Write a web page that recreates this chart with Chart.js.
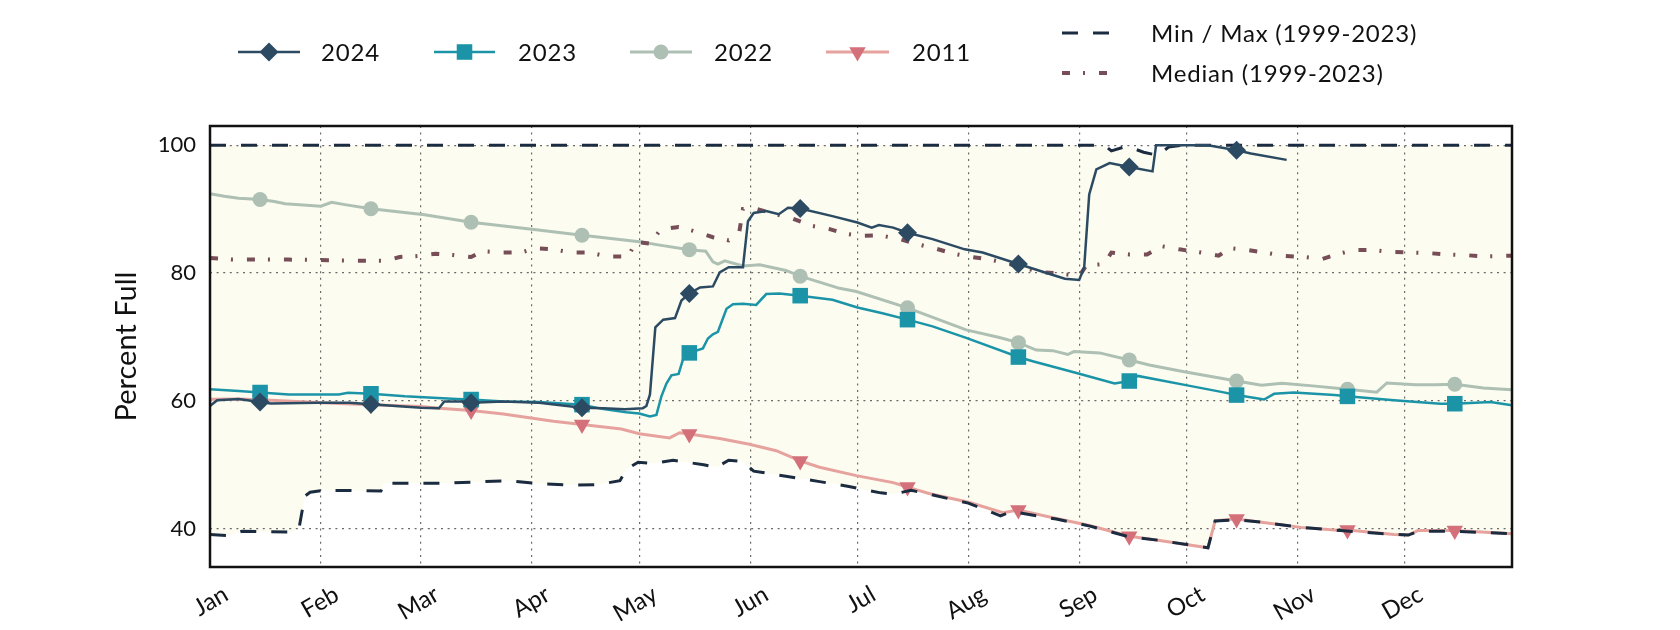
<!DOCTYPE html>
<html>
<head>
<meta charset="utf-8">
<script src="https://cdn.jsdelivr.net/npm/chart.js@4.4.1/dist/chart.umd.min.js"></script>
<style>
  body { margin: 0; background: #fff; }
  #chart { display: block; }
</style>
</head>
<body>
<canvas id="chart" width="1680" height="630"></canvas>
<script>
// Day of year (0 = Jan 1) and percent full
const monthDays = [0, 31, 59, 90, 120, 151, 181, 212, 243, 273, 304, 334];
const monthLabels = ['Jan', 'Feb', 'Mar', 'Apr', 'May', 'Jun', 'Jul', 'Aug', 'Sep', 'Oct', 'Nov', 'Dec'];
const yTicks = [40, 60, 80, 100];
const markerDays = [14, 45, 73, 104, 134, 165, 195, 226, 257, 287, 318, 348];

const days2024 = [0,2,8,14,17,30,39,45,59,64,65.5,71,73,82,92,104,110,116,121,122,123,124.5,126.7,130,131.8,134,137,140.6,142.5,145,149,150.4,152,155.5,159,161.6,165,174,181,185,187,191,195,202,211,216,226,235,239,243,244.4,245.8,247.8,251.5,257,263.5,264.5,279,287,291,301];
const pct2024 = [59.2,60.1,60.3,59.8,59.6,59.7,59.7,59.45,58.9,58.85,59.9,59.9,59.7,59.9,59.7,58.9,58.85,58.7,58.85,59.2,61,71.5,72.7,72.95,75.7,76.8,77.75,77.9,80.1,80.9,80.9,88.1,89.4,89.7,89.2,90.2,90.1,88.9,87.9,87.1,87.5,87.1,86.3,85.3,83.7,83.2,81.4,79.8,79.1,78.9,80.9,92.3,96.2,97.2,96.6,95.9,100,100,99.2,98.7,97.7];

const days2023 = [0,8,14,22,36,38.6,45,54.5,69,73,82,92,104,110,116.4,120,123,124.8,126.2,127.6,129,131,132.2,134,137.8,139.2,140.6,142,144.4,146.2,149,152.7,155.5,159.2,165,174,181,188,195,202,211.4,226,230,242,252.9,257,259.4,274.3,282.7,287,294.7,297.5,303,314.4,318,331,344,348,358,364];
const pct2023 = [61.8,61.55,61.3,61.0,61.0,61.25,61.1,60.7,60.3,60.2,59.9,59.8,59.4,58.7,58.2,58.0,57.55,57.8,60.7,62.7,64.0,64.2,66.4,67.5,68.2,69.75,70.4,70.8,74.4,75.1,75.2,75.0,76.7,76.8,76.45,75.8,74.6,73.7,72.7,71.65,69.85,66.85,66.2,64.4,62.7,63.1,63.9,62.3,61.4,60.9,60.2,61.1,61.3,60.9,60.7,60.1,59.55,59.55,59.8,59.3];

const days2022 = [0,4,8,14,18,21,31,34,37.7,45,60,73,90.6,104,109,120.6,125.3,134,138.6,140.6,142,143.9,149,153.7,161,165,176,180.7,195,211.4,220.7,226,231,235.6,239.8,241.5,248.7,257,262.6,272,287,294,299.7,309,318,326.2,329,337,342.7,348,356,364];
const pct2022 = [92.4,92.0,91.7,91.5,91.2,90.85,90.45,91.05,90.7,90.05,89.1,87.95,86.8,85.9,85.6,84.85,84.4,83.65,83.4,81.75,81.4,81.9,81.1,81.3,80.4,79.5,77.6,77.1,74.55,71.1,69.9,69.1,67.95,67.85,67.25,67.7,67.5,66.4,65.6,64.6,63.1,62.45,62.75,62.3,61.8,61.35,62.8,62.5,62.5,62.6,62.0,61.75];

const days2011 = [0,8,14,36,45,59,64,73,82,96,104,115,120,128.5,131.3,134,142.5,150.8,158.3,165,170.4,180.7,191,195,201,212.4,221.7,226,236.6,245.9,257,265,279,281,286,287,294,305,316,318,331,335,337.7,348,364];
const pct2011 = [60.25,60.3,60.15,59.6,59.4,59.1,58.85,58.5,57.95,56.8,56.3,55.6,54.85,54.2,55.0,54.8,54.1,53.2,52.2,50.6,49.6,48.3,47.2,46.5,45.5,44.1,42.5,42.9,41.6,40.5,38.8,38.2,37.0,41.2,41.5,41.5,41.0,40.2,39.7,39.8,39.1,39.0,39.7,39.7,39.2];

const daysMin = [0,5,9,23,25,26.5,28,32,47.8,48.7,65,83,90.6,101.6,108.5,114.6,116.4,119.7,124,129.5,138,141.6,145,149,152,161,170,178.6,187.5,191,196,201,212,221,224,236.6,246,257,265,279,281,287,294,305,316,331,335,338,348,364];
const pctMin = [39.1,38.9,39.6,39.45,40.4,45.1,45.7,46.0,45.9,47.1,47.1,47.5,47.1,46.8,46.9,47.5,49.3,50.4,50.2,50.7,50.0,49.6,50.7,50.5,49.0,48.2,47.4,46.6,45.6,45.4,46.0,45.4,44.0,42.0,42.7,41.5,40.4,38.7,38.2,37.0,41.2,41.4,41.0,40.2,39.7,39.1,39.0,39.6,39.6,39.2];

const daysMax = [0,250,252,256,258,261,265,268,272,364];
const pctMax = [100,100,99.1,99.8,99.5,98.9,98.4,99.7,100,100];

const daysMed = [0,6,12,22,33,44,49,53,58,63,68,73,76,82,87,91,96,101,106,111,117,119,123,126,131,135,140.6,145,148,149,153,158,163,168,173,178,182,187,193,197,203,208,213,218,223,228,233,238,243,245,250,252,257,262,266,271,277,282,285,290,295,300,306,311,315.5,320,325,330,336,341,346,351,356,364];
const pctMed = [82.35,82.1,82.1,82.1,82.0,81.9,81.9,82.5,82.65,83.0,82.8,82.5,83.4,83.2,83.2,83.9,83.7,83.2,83.2,82.6,82.6,84.9,84.6,86.8,87.2,86.6,85.6,85.1,86.5,90.0,90.0,89.2,88.5,87.4,86.9,86.1,85.8,85.9,85.3,84.6,83.8,83.0,82.5,82.1,81.5,80.7,80.1,79.9,79.5,81.2,81.4,83.2,82.9,82.9,84.2,83.7,83.2,82.7,83.9,83.6,83.2,82.7,82.5,82.2,83.0,83.6,83.6,83.3,83.2,83.1,82.9,82.8,82.6,82.7];

const FONT = 'Lato';
const INK = '#111111';

function series(days, vals) {
    return days.map((d, i) => ({x: d, y: vals[i]}));
}

// markers only on the 15th of each month
function markerAt(r) {
    return ctx => (ctx.raw && markerDays.includes(ctx.raw.x)) ? r : 0;
}

// Plot frame
const frame = {
    id: 'frame',
    afterDraw(chart) {
        const {ctx, chartArea: a} = chart;
        ctx.save();
        ctx.lineWidth = 2.5;
        ctx.strokeStyle = INK;
        ctx.strokeRect(a.left, a.top, a.right - a.left, a.bottom - a.top);
        ctx.restore();
    }
};

// Legend in two blocks, like the original
const legendLayout = [
    {ds: 0, x1: 238, x2: 300, y: 52, tx: 321},
    {ds: 4, x1: 434, x2: 495, y: 52, tx: 518},
    {ds: 5, x1: 630, x2: 692, y: 52, tx: 714},
    {ds: 6, x1: 826, x2: 889, y: 52, tx: 912},
    {ds: 1, x1: 1062, x2: 1112, y: 33, tx: 1151},
    {ds: 3, x1: 1062, x2: 1108, y: 73, tx: 1151}
];

const customLegend = {
    id: 'customLegend',
    afterDraw(chart) {
        const ctx = chart.ctx;
        ctx.save();
        legendLayout.forEach(item => {
            const ds = chart.data.datasets[item.ds];
            ctx.setLineDash(ds.borderDash || []);
            ctx.lineWidth = ds.borderWidth;
            ctx.strokeStyle = ds.borderColor;
            ctx.beginPath();
            ctx.moveTo(item.x1, item.y);
            ctx.lineTo(item.x2, item.y);
            ctx.stroke();
            ctx.setLineDash([]);
            if (ds.legendRadius) {
                ctx.fillStyle = ds.pointBackgroundColor;
                ctx.strokeStyle = ds.pointBackgroundColor;
                Chart.helpers.drawPoint(ctx, {
                    pointStyle: ds.pointStyle,
                    rotation: ds.pointRotation || 0,
                    radius: ds.legendRadius,
                    borderWidth: 0
                }, (item.x1 + item.x2) / 2, item.y);
            }
            ctx.fillStyle = INK;
            ctx.font = '24px ' + FONT;
            ctx.letterSpacing = '0.8px';
            ctx.textBaseline = 'middle';
            ctx.textAlign = 'left';
            ctx.fillText(ds.label, item.tx, item.y + 1);
        });
        ctx.restore();
    }
};

const gridStyle = {color: '#6a6a6a', lineWidth: 1.2, drawTicks: false};
const borderStyle = {display: false, dash: [2, 4.6]};

new Chart(document.getElementById('chart'), {
    type: 'line',
    data: {
        datasets: [
            {
                label: '2024',
                data: series(days2024, pct2024),
                borderColor: '#2c4b63',
                borderWidth: 2.5,
                pointStyle: 'rectRot',
                pointRadius: markerAt(9.5),
                legendRadius: 9.5,
                pointBackgroundColor: '#2c4b63',
                pointBorderWidth: 0,
                fill: false
            },
            {
                label: 'Min / Max (1999-2023)',
                data: series(daysMin, pctMin),
                borderColor: '#1b2b40',
                borderWidth: 3,
                borderDash: [16, 15],
                pointRadius: 0,
                backgroundColor: '#fcfcf1',
                fill: 2
            },
            {
                label: 'Max',
                data: series(daysMax, pctMax),
                borderColor: '#1b2b40',
                borderWidth: 3,
                borderDash: [16, 15],
                pointRadius: 0,
                fill: false
            },
            {
                label: 'Median (1999-2023)',
                data: series(daysMed, pctMed),
                borderColor: '#774e57',
                borderWidth: 4,
                borderDash: [8, 13, 2, 14],
                pointRadius: 0,
                fill: false
            },
            {
                label: '2023',
                data: series(days2023, pct2023),
                borderColor: '#1c94a8',
                borderWidth: 2.5,
                pointStyle: 'rect',
                pointRadius: markerAt(11),
                legendRadius: 11,
                pointBackgroundColor: '#1c94a8',
                pointBorderWidth: 0,
                fill: false
            },
            {
                label: '2022',
                data: series(days2022, pct2022),
                borderColor: '#aebfb3',
                borderWidth: 3,
                pointStyle: 'circle',
                pointRadius: markerAt(7.5),
                legendRadius: 7.5,
                pointBackgroundColor: '#aebfb3',
                pointBorderWidth: 0,
                fill: false
            },
            {
                label: '2011',
                data: series(days2011, pct2011),
                borderColor: '#e6a29d',
                borderWidth: 3,
                pointStyle: 'triangle',
                pointRotation: 180,
                pointRadius: markerAt(9.5),
                legendRadius: 9.5,
                pointBackgroundColor: '#d4707a',
                pointBorderWidth: 0,
                fill: false
            }
        ]
    },
    options: {
        responsive: false,
        animation: false,
        events: [],
        layout: {padding: {top: 126, right: 168, bottom: 0, left: 0}},
        elements: {line: {tension: 0}},
        plugins: {
            legend: {display: false},
            tooltip: {enabled: false},
            filler: {drawTime: 'beforeDraw'}
        },
        scales: {
            x: {
                type: 'linear',
                min: 0,
                max: 364,
                afterBuildTicks: s => { s.ticks = monthDays.map(v => ({value: v})); },
                afterFit: s => { s.height = 63; },
                grid: gridStyle,
                border: borderStyle,
                ticks: {
                    autoSkip: false,
                    minRotation: 30,
                    maxRotation: 30,
                    labelOffset: 16,
                    padding: 13,
                    color: INK,
                    font: {family: FONT, size: 24},
                    callback: (v, i) => monthLabels[i]
                }
            },
            y: {
                min: 34,
                max: 103,
                afterBuildTicks: s => { s.ticks = yTicks.map(v => ({value: v})); },
                afterFit: s => { s.width = 210; },
                grid: gridStyle,
                border: borderStyle,
                ticks: {
                    padding: 14,
                    color: INK,
                    font: {family: FONT, size: 22}
                },
                title: {
                    display: true,
                    text: 'Percent Full',
                    color: INK,
                    font: {family: FONT, size: 29},
                    padding: {top: 109, bottom: 0}
                }
            }
        }
    },
    plugins: [frame, customLegend]
});
</script>
</body>
</html>
